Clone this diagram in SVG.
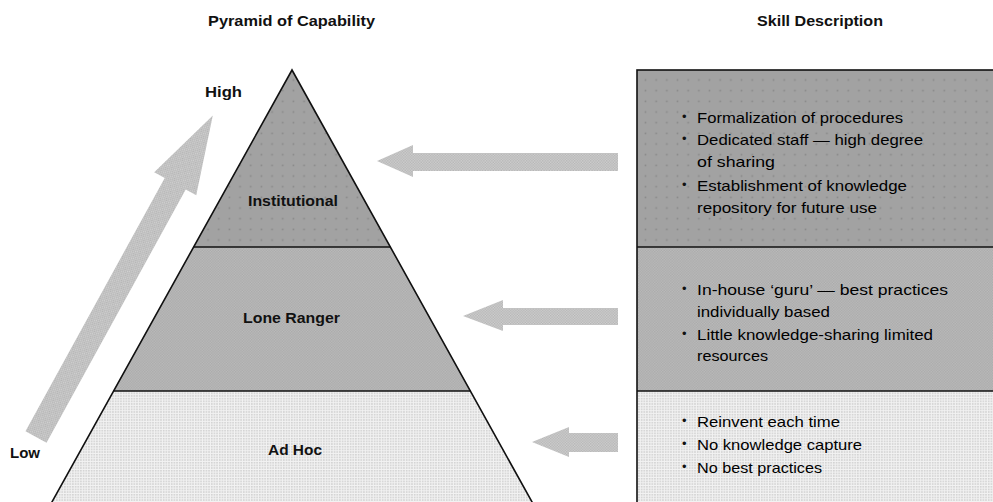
<svg xmlns="http://www.w3.org/2000/svg" width="993" height="502" viewBox="0 0 993 502">
  <defs>
    <!-- top tier: mid grey with a sparse grid of darker dots -->
    <pattern id="fill-dots" width="10.67" height="10.67" patternUnits="userSpaceOnUse">
      <rect width="10.67" height="10.67" fill="#a2a2a2"/>
      <rect x="4.5" y="4.5" width="1.6" height="1.6" fill="#888888"/>
    </pattern>
    <!-- middle tier: fine grey checker -->
    <pattern id="fill-check" width="2.67" height="2.67" patternUnits="userSpaceOnUse">
      <rect width="2.67" height="2.67" fill="#bbbbbb"/>
      <rect width="1.33" height="1.33" fill="#aaaaaa"/>
      <rect x="1.33" y="1.33" width="1.34" height="1.34" fill="#aaaaaa"/>
    </pattern>
    <!-- bottom tier: light grey with white grid -->
    <pattern id="fill-light" width="2.67" height="2.67" patternUnits="userSpaceOnUse">
      <rect width="2.67" height="2.67" fill="#f2f2f2"/>
      <rect width="1.6" height="1.6" fill="#d2d2d2"/>
    </pattern>
    <!-- arrows: light checker -->
    <pattern id="fill-arrow" width="2.67" height="2.67" patternUnits="userSpaceOnUse">
      <rect width="2.67" height="2.67" fill="#d0d0d0"/>
      <rect width="1.33" height="1.33" fill="#b4b4b4"/>
      <rect x="1.33" y="1.33" width="1.34" height="1.34" fill="#b4b4b4"/>
    </pattern>
    <style>
      .title { font-family: "Liberation Sans", Arial, sans-serif; font-weight: bold; font-size: 15px; fill: #111; }
      .label { font-family: "Liberation Sans", Arial, sans-serif; font-weight: bold; font-size: 15px; fill: #111; }
      .item  { font-family: "Liberation Sans", Arial, sans-serif; font-size: 15px; fill: #000; }
      .bullet { font-family: "Liberation Sans", Arial, sans-serif; font-size: 13px; fill: #111; }
      .edge { stroke: #111; stroke-width: 1.6; fill: none; }
      .arrow { fill: url(#fill-arrow); stroke: none; }
    </style>
  </defs>

  <rect width="993" height="502" fill="#ffffff"/>

  <!-- column headings -->
  <g id="heading-pyramid">
    <text class="title" x="208" y="26" textLength="167" lengthAdjust="spacingAndGlyphs">Pyramid of Capability</text>
  </g>
  <g id="heading-skills">
    <text class="title" x="757" y="26" textLength="126" lengthAdjust="spacingAndGlyphs">Skill Description</text>
  </g>

  <!-- pyramid tiers -->
  <g id="tier-institutional">
    <polygon points="292,70 390.6,247 193.4,247" fill="url(#fill-dots)"/>
    <text class="label" x="248" y="206" textLength="90" lengthAdjust="spacingAndGlyphs">Institutional</text>
  </g>
  <g id="tier-lone-ranger">
    <polygon points="193.4,247 390.6,247 470.8,391 113.2,391" fill="url(#fill-check)"/>
    <text class="label" x="243" y="323" textLength="97" lengthAdjust="spacingAndGlyphs">Lone Ranger</text>
  </g>
  <g id="tier-ad-hoc">
    <polygon points="113.2,391 470.8,391 532.6,502 51.4,502" fill="url(#fill-light)"/>
    <text class="label" x="268" y="455" textLength="54" lengthAdjust="spacingAndGlyphs">Ad Hoc</text>
  </g>
  <g id="pyramid-outline">
    <polyline class="edge" points="51.4,503 292,70 532.6,503"/>
    <line class="edge" x1="193.4" y1="247" x2="390.6" y2="247"/>
    <line class="edge" x1="113.2" y1="391" x2="470.8" y2="391"/>
  </g>

  <!-- scale labels -->
  <g id="label-high">
    <text class="label" x="205" y="97" textLength="37" lengthAdjust="spacingAndGlyphs">High</text>
  </g>
  <g id="label-low">
    <text class="label" x="10" y="458" textLength="30" lengthAdjust="spacingAndGlyphs">Low</text>
  </g>

  <!-- skill description panels -->
  <g id="skills-institutional">
    <rect x="637" y="70" width="400" height="177" fill="url(#fill-dots)"/>
    <text class="bullet" x="682" y="121">•</text>
    <text class="item" x="697" y="123" textLength="206" lengthAdjust="spacingAndGlyphs">Formalization of procedures</text>
    <text class="bullet" x="682" y="143">•</text>
    <text class="item" x="697" y="145" textLength="226" lengthAdjust="spacingAndGlyphs">Dedicated staff — high degree</text>
    <text class="item" x="697" y="167" textLength="78" lengthAdjust="spacingAndGlyphs">of sharing</text>
    <text class="bullet" x="682" y="189">•</text>
    <text class="item" x="697" y="191" textLength="210" lengthAdjust="spacingAndGlyphs">Establishment of knowledge</text>
    <text class="item" x="697" y="213" textLength="180" lengthAdjust="spacingAndGlyphs">repository for future use</text>
  </g>
  <g id="skills-lone-ranger">
    <rect x="637" y="247" width="400" height="144" fill="url(#fill-check)"/>
    <text class="bullet" x="682" y="293">•</text>
    <text class="item" x="697" y="295" textLength="251" lengthAdjust="spacingAndGlyphs">In-house ‘guru’ — best practices</text>
    <text class="item" x="697" y="317" textLength="133" lengthAdjust="spacingAndGlyphs">individually based</text>
    <text class="bullet" x="682" y="338">•</text>
    <text class="item" x="697" y="340" textLength="236" lengthAdjust="spacingAndGlyphs">Little knowledge-sharing limited</text>
    <text class="item" x="697" y="361" textLength="71" lengthAdjust="spacingAndGlyphs">resources</text>
  </g>
  <g id="skills-ad-hoc">
    <rect x="637" y="391" width="400" height="120" fill="url(#fill-light)"/>
    <text class="bullet" x="682" y="425">•</text>
    <text class="item" x="697" y="427" textLength="143" lengthAdjust="spacingAndGlyphs">Reinvent each time</text>
    <text class="bullet" x="682" y="448">•</text>
    <text class="item" x="697" y="450" textLength="165" lengthAdjust="spacingAndGlyphs">No knowledge capture</text>
    <text class="bullet" x="682" y="471">•</text>
    <text class="item" x="697" y="473" textLength="125" lengthAdjust="spacingAndGlyphs">No best practices</text>
  </g>
  <g id="skills-frame">
    <rect class="edge" x="637" y="70" width="400" height="450"/>
    <line class="edge" x1="637" y1="247" x2="993" y2="247"/>
    <line class="edge" x1="637" y1="391" x2="993" y2="391"/>
  </g>

  <!-- connectors: description-to-tier arrows and the low-to-high scale arrow -->
  <g id="connectors">
    <polygon class="arrow" points="618,153 413,153 413,145 377,161 413,177 413,171 618,171"/>
    <polygon class="arrow" points="618,308 503,308 503,300 463,316 503,331 503,325 618,325"/>
    <polygon class="arrow" points="618,433 569,433 569,427 532,442 569,457 569,452 618,452"/>
    <polygon class="arrow" transform="translate(36,437) rotate(-61.2)" points="0,-12 289,-12 289,-24 367,0 289,24 289,12 0,12"/>
  </g>
</svg>
